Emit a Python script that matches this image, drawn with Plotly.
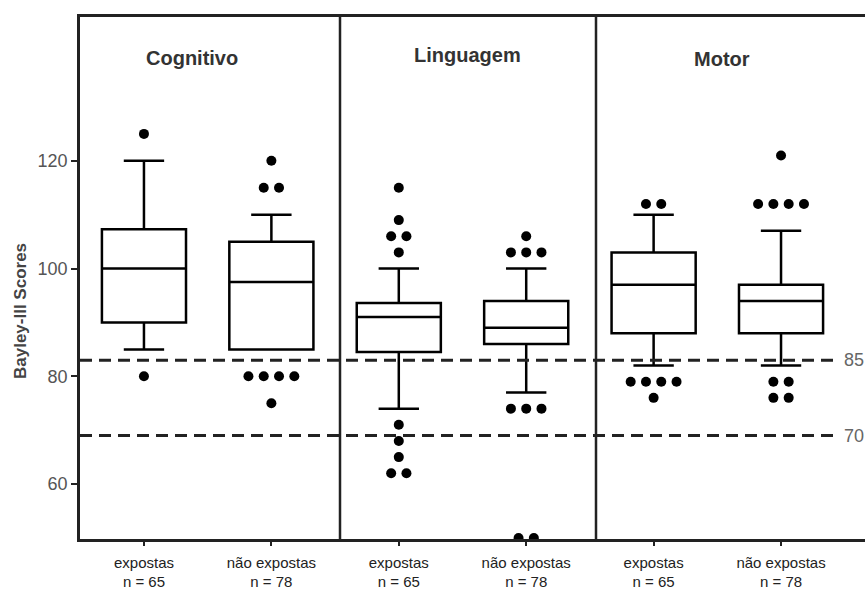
import plotly.graph_objects as go
from collections import Counter

# ---------------- data ----------------
panels = ["Cognitivo", "Linguagem", "Motor"]
group_labels = ["expostas", "não expostas"] * 3
n_labels = ["n = 65", "n = 78"] * 3

lower_whisker = [85, 85, 74, 77, 82, 82]
q1_values = [90, 85, 84.5, 86, 88, 88]
median_values = [100, 97.5, 91, 89, 97, 94]
q3_values = [107.3, 105, 93.6, 94, 103, 97]
upper_whisker = [120, 110, 100, 100, 110, 107]

outliers = [
    [125, 80],
    [120, 115, 115, 80, 80, 80, 80, 75],
    [115, 109, 106, 106, 103, 71, 68, 65, 62, 62],
    [106, 103, 103, 103, 74, 74, 74, 50, 50],
    [112, 112, 79, 79, 79, 79, 76],
    [121, 112, 112, 112, 112, 79, 79, 76, 76],
]

cutoff_values = [83, 69]
cutoff_labels = ["85", "70"]

y_ticks = [60, 80, 100, 120]

# ---------------- figure ----------------
FONT = "Liberation Sans, Arial, sans-serif"
LINE = "#222222"
fig = go.Figure()

positions = list(range(len(group_labels)))
dot_step = 0.12

for i, pos in enumerate(positions):
    fig.add_trace(go.Box(
        x=[pos], q1=[q1_values[i]], median=[median_values[i]], q3=[q3_values[i]],
        lowerfence=[lower_whisker[i]], upperfence=[upper_whisker[i]],
        width=0.66, whiskerwidth=0.48, boxpoints=False,
        fillcolor="white", line=dict(color="black", width=2.5),
        showlegend=False, hoverinfo="skip",
    ))
    counts = Counter(outliers[i])
    seen = Counter()
    xs, ys = [], []
    for v in outliers[i]:
        n = counts[v]
        k = seen[v]
        seen[v] += 1
        xs.append(pos + (k - (n - 1) / 2) * dot_step)
        ys.append(v)
    fig.add_trace(go.Scatter(
        x=xs, y=ys, mode="markers",
        marker=dict(color="black", size=10),
        showlegend=False, hoverinfo="skip", cliponaxis=True,
    ))

W, H = 865, 594
ML, MR, MT, MB = 80, 0, 17, 55
plot_w = W - ML - MR
plot_h = H - MT - MB


def px_x(p):
    return (p - ML) / plot_w


def px_y(p):
    return (H - MB - p) / plot_h


shapes = []
# panel separators
for sep in [340, 596]:
    shapes.append(dict(type="line", xref="paper", yref="paper",
                       x0=px_x(sep), x1=px_x(sep), y0=0, y1=1,
                       line=dict(color=LINE, width=2.5)))
# cutoff dashed lines
for v in cutoff_values:
    shapes.append(dict(type="line", xref="paper", yref="y",
                       x0=0, x1=px_x(833), y0=v, y1=v,
                       line=dict(color=LINE, width=3, dash="12px,7px")))

annotations = []
title_px = [(192, 58), (467, 55), (722, 59)]
for name, (tx, ty) in zip(panels, title_px):
    annotations.append(dict(text=f"<b>{name}</b>", xref="paper", yref="paper",
                            x=px_x(tx), y=px_y(ty), showarrow=False,
                            xanchor="center", yanchor="middle",
                            font=dict(family=FONT, size=20, color="#333333")))
for v, lab in zip(cutoff_values, cutoff_labels):
    annotations.append(dict(text=lab, xref="paper", yref="y",
                            x=px_x(842), y=v, showarrow=False,
                            xanchor="left", yanchor="middle",
                            font=dict(family=FONT, size=18, color="#666666")))
annotations.append(dict(text="<b>Bayley-III Scores</b>", xref="paper", yref="paper",
                        x=px_x(20), y=px_y(311), showarrow=False, textangle=-90,
                        xanchor="center", yanchor="middle",
                        font=dict(family=FONT, size=17, color="#444444")))

fig.update_layout(
    width=W, height=H,
    margin=dict(l=ML, r=MR, t=MT, b=MB, autoexpand=False),
    plot_bgcolor="white", paper_bgcolor="white",
    font=dict(family=FONT),
    shapes=shapes, annotations=annotations,
    xaxis=dict(
        range=[-0.502, 5.659], tickvals=positions,
        ticktext=[f"{g}<br>{n}" for g, n in zip(group_labels, n_labels)],
        tickfont=dict(family=FONT, size=15, color="#222222"),
        ticklabelstandoff=4,
        showgrid=False, zeroline=False,
        showline=True, linecolor=LINE, linewidth=2.5, mirror=True,
        ticks="outside", ticklen=4, tickwidth=1.5, tickcolor=LINE,
        automargin=False,
    ),
    yaxis=dict(
        range=[49.8, 146.7], tickvals=y_ticks,
        tickfont=dict(family=FONT, size=18, color="#555555"),
        showgrid=False, zeroline=False,
        showline=True, linecolor=LINE, linewidth=2.5,
        ticks="outside", ticklen=6, tickwidth=2, tickcolor=LINE,
        automargin=False,
    ),
)

fig.write_html(
    "out.html",
    config={"displayModeBar": False},
    post_script="document.body.style.margin='0';document.body.style.overflow='hidden';",
)
